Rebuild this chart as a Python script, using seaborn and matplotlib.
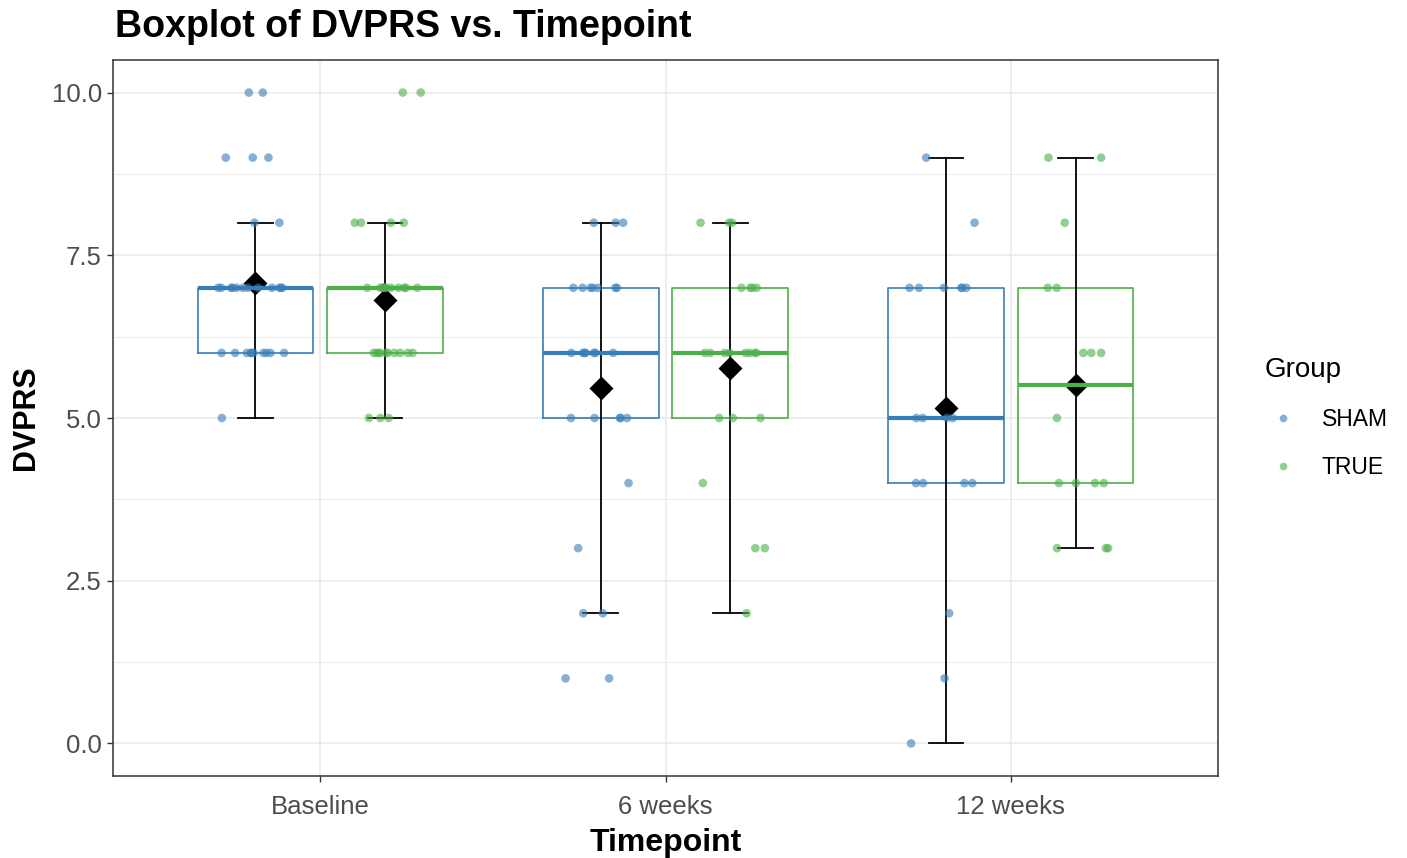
import numpy as np
import pandas as pd
import matplotlib
matplotlib.use("Agg")
import matplotlib.pyplot as plt
import seaborn as sns
from matplotlib.lines import Line2D
from matplotlib.ticker import MultipleLocator

# ---------------- data ----------------
timepoints = ["Baseline", "6 weeks", "12 weeks"]
groups = ["SHAM", "TRUE"]
colors = ["#377EB8", "#4DAF4A"]

baseline_sham = [5, 6, 6, 6, 6, 6, 6, 6, 6, 6, 6, 7, 7, 7, 7, 7, 7, 7, 7, 7, 7, 7, 7,
                 8, 8, 9, 9, 9, 10, 10]
baseline_true = [5, 5, 5, 6, 6, 6, 6, 6, 6, 6, 6, 6, 6, 7, 7, 7, 7, 7, 7, 7, 7, 7, 7,
                 7, 7, 8, 8, 8, 8, 10, 10]
week6_sham = [1, 1, 2, 2, 3, 4, 5, 5, 5, 5, 5, 6, 6, 6, 6, 6, 6, 6, 7, 7, 7, 7, 7, 7,
              7, 8, 8, 8]
week6_true = [2, 3, 3, 4, 5, 5, 5, 6, 6, 6, 6, 6, 6, 6, 6, 7, 7, 7, 7, 8, 8, 8]
week12_sham = [0, 1, 2, 4, 4, 4, 4, 5, 5, 5, 5, 7, 7, 7, 7, 7, 7, 8, 9]
week12_true = [3, 3, 3, 4, 4, 4, 4, 5, 6, 6, 6, 7, 7, 8, 9, 9]

series = {
    ("Baseline", "SHAM"): baseline_sham,
    ("Baseline", "TRUE"): baseline_true,
    ("6 weeks", "SHAM"): week6_sham,
    ("6 weeks", "TRUE"): week6_true,
    ("12 weeks", "SHAM"): week12_sham,
    ("12 weeks", "TRUE"): week12_true,
}
rows = []
for (tp, grp), vals in series.items():
    for v in vals:
        rows.append({"Timepoint": tp, "Group": grp, "DVPRS": v})
df = pd.DataFrame(rows)


def whisker_range(v):
    v = np.asarray(v, dtype=float)
    q1, q3 = np.percentile(v, [25, 75])
    iqr = q3 - q1
    lo = v[v >= q1 - 1.5 * iqr].min()
    hi = v[v <= q3 + 1.5 * iqr].max()
    return lo, hi


# ---------------- figure ----------------
plt.rcParams["font.family"] = ["Liberation Sans", "DejaVu Sans"]
W, H = 1407, 858
fig = plt.figure(figsize=(W / 100, H / 100), dpi=100)
fig.patch.set_facecolor("white")
ax = fig.add_axes([113 / W, 1 - 776 / H, (1218 - 113) / W, (776 - 60) / H])
ax.set_facecolor("white")

common = dict(data=df, x="Timepoint", y="DVPRS", hue="Group",
              order=timepoints, hue_order=groups, ax=ax)

sns.boxplot(**common, palette=colors, fill=False, width=0.75, gap=0.107,
            showfliers=False, showcaps=False,
            whiskerprops=dict(visible=False),
            linewidth=1.2, medianprops=dict(linewidth=3.0),
            legend=False)

np.random.seed(7)
sns.stripplot(**common, palette=colors, dodge=True, jitter=0.2, size=6.2,
              alpha=0.6, linewidth=0, legend=False, zorder=3)

sns.pointplot(**common, palette=["black", "black"], estimator="mean",
              errorbar=whisker_range, dodge=0.375, markers="D", markersize=10,
              linestyle="none", capsize=0.1, err_kws={"linewidth": 1.3},
              legend=False)

# ---------------- styling ----------------
ax.set_xlim(-0.6, 2.6)
ax.set_ylim(-0.5, 10.5)
ax.yaxis.set_minor_locator(MultipleLocator(1.25))
ax.set_yticks([0, 2.5, 5, 7.5, 10])
ax.set_yticklabels(["0.0", "2.5", "5.0", "7.5", "10.0"])
ax.set_axisbelow(True)
ax.grid(True, which="major", color="#EBEBEB", linewidth=1.2)
ax.grid(True, which="minor", axis="y", color="#EBEBEB", linewidth=0.7)
ax.tick_params(axis="both", which="major", labelsize=18.5, labelcolor="#4D4D4D",
               color="#333333", length=4, width=1.0)
ax.tick_params(axis="x", which="major", pad=10)
ax.tick_params(axis="y", which="major", pad=4)
ax.tick_params(axis="y", which="minor", length=0)
for s in ax.spines.values():
    s.set_color("#333333")
    s.set_linewidth(1.1)

ax.set_xlabel("Timepoint", fontsize=23, fontweight="bold", labelpad=6)
ax.set_ylabel("DVPRS", fontsize=22, fontweight="bold", labelpad=8)
fig.text(115 / W, 1 - 27 / H, "Boxplot of DVPRS vs. Timepoint", fontsize=27,
         fontweight="bold", ha="left", va="center")

handles = [Line2D([], [], marker="o", linestyle="", color=c, alpha=0.6,
                  markersize=5.5, markeredgewidth=0) for c in colors]
leg = fig.legend(handles, groups, title="Group", loc="upper left",
                 bbox_to_anchor=(1244 / W, 1 - 336 / H), frameon=False,
                 fontsize=16.5, title_fontsize=20, labelspacing=1.1,
                 handletextpad=0.9, handlelength=1.6)
leg._legend_box.align = "left"

fig.savefig("out.png", dpi=100, facecolor="white")
